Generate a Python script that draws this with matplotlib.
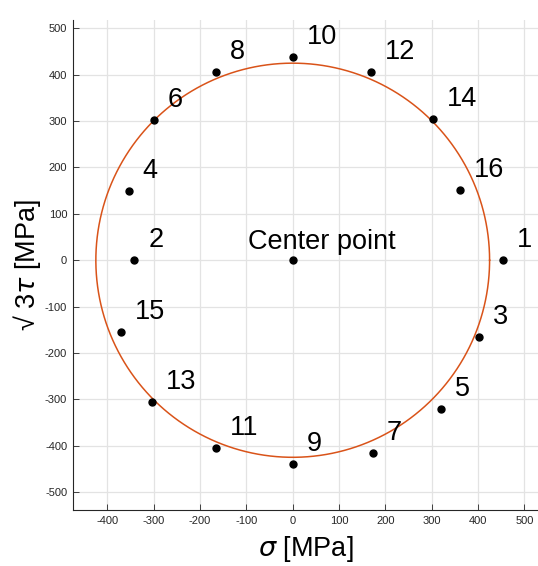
import numpy as np
import matplotlib
matplotlib.use("Agg")
import matplotlib.pyplot as plt

# ── Data ─────────────────────────────────────────────────────────────────────
point_ids = ["1", "2", "3", "4", "5", "6", "7", "8",
             "9", "10", "11", "12", "13", "14", "15", "16"]
sigma = [453, -342, 403, -354, 320, -299, 173, -166,
         1, 1, -166, 168, -304, 303, -371, 362]
tau3 = [0, 0, -166, 149, -320, 303, -415, 406,
        -440, 438, -405, 405, -305, 304, -154, 152]
center = (0, 0)
radius = 425

# ── Style ────────────────────────────────────────────────────────────────────
plt.rcParams.update({
    "font.family": ["Liberation Sans", "DejaVu Sans"],
    "mathtext.fontset": "dejavusans",
    "axes.unicode_minus": False,
})

fig = plt.figure(figsize=(5.38, 5.66), dpi=100)
ax = fig.add_axes([0.1351, 0.0989, 0.8649, 0.8657])

theta = np.linspace(0, 2 * np.pi, 400)
ax.plot(center[0] + radius * np.cos(theta), center[1] + radius * np.sin(theta),
        color="#D95319", lw=1.1, zorder=2)

ax.plot(sigma, tau3, "o", color="black", ms=5, zorder=3)
ax.plot(*center, "o", color="black", ms=5, zorder=3)

for lab, x, y in zip(point_ids, sigma, tau3):
    ax.annotate(lab, (x, y), xytext=(10, 14.4), textcoords="offset points",
                ha="left", va="center", fontsize=19.5)
ax.annotate("Center point", center, xytext=(21, 13), textcoords="offset points",
            ha="center", va="center", fontsize=19.5)

ax.set_xlim(-475, 529.5)
ax.set_ylim(-538.7, 518)
ax.set_xticks(np.arange(-400, 501, 100))
ax.set_yticks(np.arange(-500, 501, 100))
ax.grid(True, color="#e3e3e3", lw=0.9)
ax.set_axisbelow(True)
ax.tick_params(direction="in", labelsize=8, length=4, width=0.6,
               colors="#262626", pad=4)
for s in ["top", "right"]:
    ax.spines[s].set_visible(False)
for s in ["left", "bottom"]:
    ax.spines[s].set_color("#262626")
    ax.spines[s].set_linewidth(0.8)

ax.set_xlabel(r"$\sigma$ [MPa]", fontsize=19.5, labelpad=6)
ax.set_ylabel("\u221a 3$\\tau$ [MPa]", fontsize=19.5, labelpad=1)

fig.savefig("out.png", dpi=100)
